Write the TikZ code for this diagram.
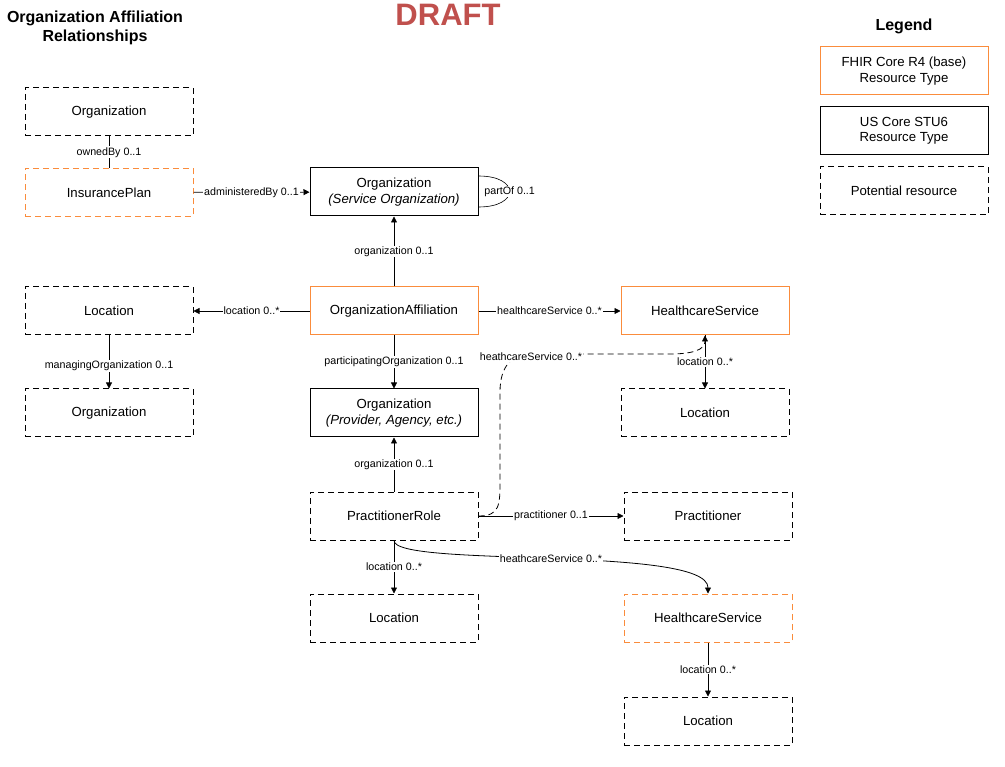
\documentclass[tikz,border=0pt]{standalone}
\usepackage{fontspec}
\setmainfont{Liberation Sans}
\usetikzlibrary{arrows.meta}

\definecolor{fhirorange}{RGB}{250,140,60}
\definecolor{draftred}{RGB}{192,80,77}

\tikzset{
  res/.style={minimum width=168pt, minimum height=48pt, inner sep=2pt, align=center,
    line width=1pt, font=\fontsize{13.2}{15.5}\selectfont},
  fhir/.style={res, draw=fhirorange},
  uscore/.style={res, draw=black},
  potential/.style={res, draw=black, dash pattern=on 6pt off 4pt},
  fhirpot/.style={res, draw=fhirorange, dash pattern=on 6pt off 4pt},
  rel/.style={line width=0.8pt, -{Triangle[length=6pt,width=6pt]}},
  lbl/.style={fill=white, inner sep=1pt, font=\fontsize{10.7}{12}\selectfont},
  heading/.style={font=\bfseries\fontsize{16}{19}\selectfont, align=center}
}

\begin{document}
\begin{tikzpicture}[x=1pt, y=-1pt]
    \useasboundingbox[fill=white] (0,0) rectangle (1005,767);

    % Titles
    \node[heading] (title) at (95,28) {Organization Affiliation\\Relationships};
    \node[font=\bfseries\fontsize{31}{34}\selectfont, text=draftred] (draft) at (448,15) {DRAFT};
    \node[heading] (legend) at (904,26) {Legend};

    % Legend
    \node[fhir] (lgfhir) at (904,71) {FHIR Core R4 (base)\\Resource Type};
    \node[uscore] (lgus) at (904,131) {US Core STU6\\Resource Type};
    \node[potential] (lgpot) at (904,191) {Potential resource};

    % Nodes
    \node[potential] (orgowner) at (109,112) {Organization};
    \node[fhirpot] (plan) at (109,192.5) {InsurancePlan};
    \node[uscore] (orgsvc) at (394,192) {Organization\\\textit{(Service Organization)}};
    \node[fhir] (affil) at (394,311) {OrganizationAffiliation};
    \node[potential] (locleft) at (109,311) {Location};
    \node[potential] (orgmgr) at (109,413) {Organization};
    \node[fhir] (hsvc) at (705,311) {HealthcareService};
    \node[potential] (lochs) at (705,413) {Location};
    \node[uscore] (orgprov) at (394,413) {Organization\\\textit{(Provider, Agency, etc.)}};
    \node[potential] (prole) at (394,516) {PractitionerRole};
    \node[potential] (pract) at (708,516) {Practitioner};
    \node[potential] (locrole) at (394,618) {Location};
    \node[fhirpot] (hsvcrole) at (708,618) {HealthcareService};
    \node[potential] (lochsrole) at (708,721) {Location};

    % Lines
    \draw[line width=0.8pt] (orgowner) -- node[lbl] {ownedBy 0..1} (plan);
    \draw[rel] (plan) -- node[lbl] {administeredBy 0..1} (orgsvc);
    \draw[line width=0.6pt] (orgsvc.east |- 0,176) .. controls (520,176) and (520,207) .. (orgsvc.east |- 0,207)
        node[pos=0.5, lbl] {partOf 0..1};
    \draw[rel] (affil) -- node[lbl] {organization 0..1} (orgsvc);
    \draw[rel] (affil) -- node[lbl] {location 0..*} (locleft);
    \draw[rel] (affil) -- node[lbl] {healthcareService 0..*} (hsvc);
    \draw[rel] (affil) -- node[lbl] {participatingOrganization 0..1} (orgprov);
    \draw[rel] (locleft) -- node[lbl, pos=0.57] {managingOrganization 0..1} (orgmgr);
    \draw[rel] (hsvc) -- node[lbl] {location 0..*} (lochs);
    \draw[rel] (prole) -- node[lbl] {organization 0..1} (orgprov);
    \draw[rel] (prole) -- node[lbl] {practitioner 0..1} (pract);
    \draw[rel] (prole) -- node[lbl] {location 0..*} (locrole);
    \draw[rel] (prole.south) .. controls (394,568) and (708,545) .. (hsvcrole.north)
        node[pos=0.5, lbl] {heathcareService 0..*};
    \draw[rel, dash pattern=on 6pt off 4pt] (prole.east) .. controls (500,516) and (500,505) .. (500,480)
        -- (500,392) .. controls (500,366) and (512,354) .. (531,354)
        node[lbl, yshift=-3pt] {heathcareService 0..*}
        -- (670,354) .. controls (692,354) and (705,350) .. (hsvc.south);
    \draw[rel] (hsvcrole) -- node[lbl] {location 0..*} (lochsrole);

\end{tikzpicture}
\end{document}
